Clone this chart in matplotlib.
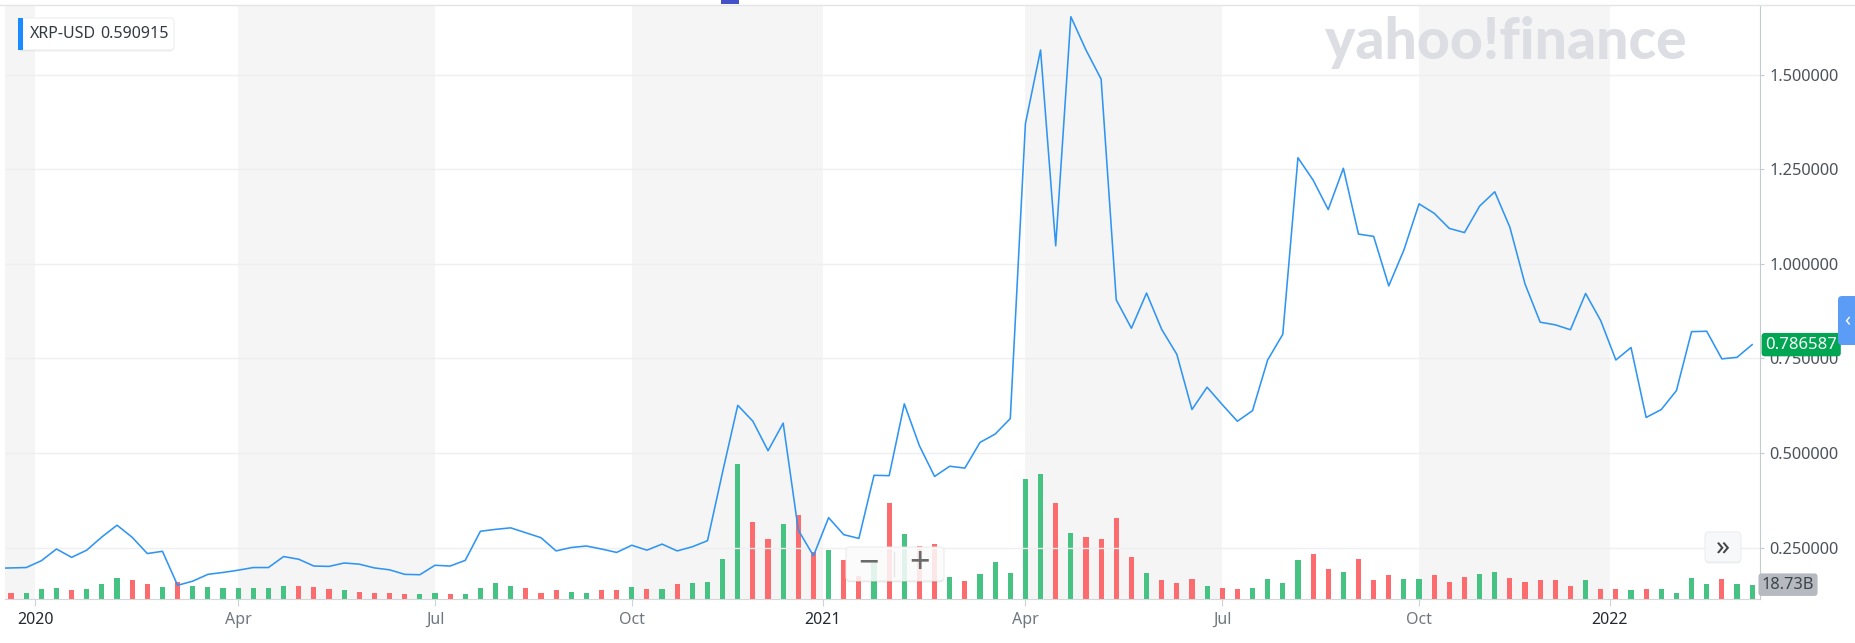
import numpy as np
import pandas as pd
import matplotlib
matplotlib.use("Agg")
import matplotlib.pyplot as plt
from matplotlib import patches, transforms
from matplotlib.lines import Line2D
import matplotlib.patheffects as pe

plt.rcParams['font.family'] = ['Noto Sans', 'DejaVu Sans']

# --- datos (semanal, XRP-USD) ---
dates = pd.date_range('2019-12-16', periods=117, freq='W-MON')

price = [
    0.195,
    0.196, 0.197, 0.215, 0.246, 0.224, 0.243, 0.278, 0.309, 0.277, 0.234,
    0.240, 0.150, 0.161, 0.179, 0.184, 0.190, 0.197, 0.197, 0.226, 0.219,
    0.201, 0.200, 0.209, 0.206, 0.196, 0.191, 0.179, 0.178, 0.203, 0.201,
    0.216, 0.293, 0.298, 0.302, 0.289, 0.276, 0.241, 0.250, 0.254, 0.246,
    0.237, 0.256, 0.243, 0.259, 0.241, 0.252, 0.268, 0.450, 0.626, 0.584,
    0.506, 0.579, 0.296, 0.228, 0.329, 0.284, 0.274, 0.441, 0.440, 0.630,
    0.519, 0.438, 0.465, 0.460, 0.528, 0.550, 0.591, 1.371, 1.566, 1.048,
    1.654, 1.566, 1.489, 0.905, 0.830, 0.923, 0.827, 0.761, 0.615, 0.674,
    0.628, 0.584, 0.612, 0.746, 0.814, 1.281, 1.222, 1.144, 1.253, 1.079,
    1.073, 0.942, 1.037, 1.159, 1.134, 1.094, 1.083, 1.153, 1.191, 1.097,
    0.947, 0.846, 0.839, 0.826, 0.922, 0.850, 0.746, 0.779, 0.594, 0.615,
    0.665, 0.821, 0.822, 0.749, 0.753, 0.786587,
]

# volumen en miles de millones (B); la primera semana queda fuera del grafico
volume = [
    np.nan,
    7.8, 7.8, 13.1, 14.8, 11.3, 13.1, 19.2, 27.9, 24.4, 19.2,
    16.1, 22.7, 17.4, 16.1, 14.4, 14.4, 14.4, 14.4, 17.4, 17.4,
    16.1, 13.1, 11.3, 9.6, 7.8, 7.8, 6.1, 6.1, 7.8, 6.1,
    6.1, 14.4, 20.9, 17.4, 14.4, 7.8, 11.3, 9.6, 7.8, 11.3,
    11.3, 15.7, 13.1, 13.1, 19.2, 20.9, 22.7, 52.3, 176.4, 101.1,
    78.4, 98.0, 109.3, 61.4, 63.6, 50.5, 30.5, 47.9, 125.5, 84.9,
    68.8, 72.3, 29.2, 23.1, 32.7, 48.8, 34.4, 156.8, 163.4, 125.5,
    86.2, 81.5, 78.4, 105.9, 55.3, 34.4, 24.4, 20.9, 26.1, 17.4,
    14.4, 13.1, 14.4, 26.1, 20.9, 50.5, 58.8, 39.2, 35.7, 52.3,
    24.4, 30.9, 26.1, 26.1, 30.9, 22.7, 29.2, 32.7, 35.7, 27.4,
    22.7, 24.4, 24.4, 17.4, 24.4, 13.1, 13.1, 11.3, 13.1, 13.1,
    7.8, 27.4, 19.2, 26.1, 19.2, 18.73,
]

# u = sube, d = baja (color de la barra de volumen)
direction = ("-"
             "duuuduuudd" "uduuuuuuud" "ddudddduud" "uuuuddduud"
             "dududuuuud" "dudduddudu" "dduduuuuud" "uddddudddu"
             "dduuuuddud" "dduuddduud" "dddduddudu" "uuuduu")

price_ticks = [0.25, 0.5, 0.75, 1.0, 1.25, 1.5]
legend_value = "0.590915"
last_volume_label = "18.73B"

# --- geometria en pixeles ---
W, H = 1855, 643
L, R, T, B = 5, 1760, 5, 599


def fx(x):
    return x / W


def fy(y):
    return 1 - y / H


fig = plt.figure(figsize=(W / 100, H / 100), dpi=100)
ax_v = fig.add_axes([fx(L), fy(B), (R - L) / W, (B - T) / H])
ax = ax_v.twinx()
ax.patch.set_visible(False)

x = np.arange(len(dates))
ax_v.set_xlim(0.6, 116.52)
ax_v.set_ylim(0, 776)
ax.set_ylim(0.1138, 1.685)

# ticks: primer dato de cada trimestre, el de año un poco antes
tick_pos, tick_lab, tick_year = [], [], []
for q in pd.date_range('2020-01-01', '2022-01-01', freq='QS'):
    idx = int(np.argmax(dates >= q))
    if q.month == 1:
        tick_pos.append(idx - 0.4)
        tick_lab.append(str(q.year))
        tick_year.append(True)
    else:
        tick_pos.append(idx)
        tick_lab.append(q.strftime('%b'))
        tick_year.append(False)

# bandas grises (T4 y T2)
edges = [ax_v.get_xlim()[0]] + tick_pos + [ax_v.get_xlim()[1]]
for k in range(len(edges) - 1):
    if k % 2 == 0:
        ax_v.axvspan(edges[k], edges[k + 1], color='#f5f5f5', lw=0, zorder=0)

for p in price_ticks:
    ax.axhline(p, color='#eeeff1', lw=1, zorder=0.5)

bar_colors = ['#46c283' if d == 'u' else '#fc6b6d' for d in direction]
ax_v.bar(x, volume, width=0.34, color=bar_colors, zorder=2)
ax.plot(x, price, color='#2f95f2', lw=1.15, zorder=3)

# ejes
for s in ['top', 'left', 'right']:
    ax_v.spines[s].set_visible(False)
ax_v.spines['bottom'].set_color('#d3d6da')
for s in ['top', 'left', 'bottom']:
    ax.spines[s].set_visible(False)
ax.spines['right'].set_color('#c6cace')

ax_v.tick_params(axis='y', left=False, labelleft=False, right=False, labelright=False)
ax_v.set_xticks(tick_pos)
ax_v.set_xticklabels(tick_lab)
ax_v.tick_params(axis='x', length=5, color='#cfd3d7', pad=4)
for lab, yr in zip(ax_v.get_xticklabels(), tick_year):
    lab.set_fontsize(11.5)
    if yr:
        lab.set_fontweight('bold')
        lab.set_color('#232a31')
    else:
        lab.set_color('#6f7780')

ax.set_yticks(price_ticks)
ax.set_yticklabels([f'{p:.6f}' for p in price_ticks])
ax.tick_params(axis='y', length=3, color='#c6cace', pad=4,
               labelsize=11.8, labelcolor='#4b535b')

# etiqueta del precio actual
tr_p = transforms.blended_transform_factory(ax.transAxes, ax.transData)
ax.text(1.003, price[-1], f'{price[-1]:.6f}', transform=tr_p, ha='left', va='center',
        fontsize=12, color='white', zorder=10, clip_on=False,
        bbox=dict(boxstyle='round,pad=0.22,rounding_size=0.2', fc='#00a651', ec='none'))

# etiqueta del ultimo volumen
tr_v = transforms.blended_transform_factory(ax_v.transAxes, ax_v.transData)
ax.text(1.001, volume[-1], last_volume_label, transform=tr_v, ha='left', va='center',
        fontsize=11.8, color='#3d444c', zorder=10, clip_on=False,
        bbox=dict(boxstyle='round,pad=0.2,rounding_size=0.2', fc='#b6b9c0', ec='none'))

# linea superior y marcador azul del navegador
fig.add_artist(Line2D([0, 1], [fy(4.5)] * 2, transform=fig.transFigure,
                      color='#e1e4e8', lw=1))
px = transforms.IdentityTransform()
fig.add_artist(patches.Rectangle((721, H - 4), 18, 4, fc='#4451c9', ec='none', transform=px))

shadow = [pe.SimplePatchShadow(offset=(0, -1), shadow_rgbFace='#000000', alpha=0.08), pe.Normal()]

# leyenda
leg = patches.FancyBboxPatch((18, H - 50), 156, 32, boxstyle='round,pad=0,rounding_size=4',
                             fc='white', ec='#eceef0', lw=0.8, transform=px, path_effects=shadow)
fig.add_artist(leg)
fig.add_artist(patches.Rectangle((18, H - 50), 5, 32, fc='#1a8cff', ec='none', transform=px))
fig.text(fx(30), fy(34), 'XRP-USD', ha='left', va='center', fontsize=11.5, color='#333a41')
fig.text(fx(100), fy(34), legend_value, ha='left', va='center', fontsize=11.5, color='#333a41')

# marca de agua
fig.text(fx(1506), fy(59), 'yahoo!finance', ha='center', va='baseline', fontsize=41,
         fontweight='black', family=['Lato', 'DejaVu Sans'], color='#dcdee3')

# controles de zoom
zb = patches.FancyBboxPatch((846, H - 581), 98, 34, boxstyle='round,pad=0,rounding_size=4',
                            fc='white', ec='#e8e8e8', lw=0.8, alpha=0.85, transform=px,
                            path_effects=shadow)
fig.add_artist(zb)
fig.add_artist(Line2D([894, 894], [H - 576, H - 552], transform=px, color='#e6e6e6', lw=1))
fig.text(fx(869), fy(564), '\u2212', ha='center', va='center', fontsize=26,
         fontweight='bold', color='#6a6a6a')
fig.text(fx(920), fy(564), '+', ha='center', va='center', fontsize=26,
         fontweight='bold', color='#6a6a6a')

# boton >>
bb = patches.FancyBboxPatch((1705, H - 562), 36, 30, boxstyle='round,pad=0,rounding_size=4',
                            fc='#f7f8f9', ec='#eceef0', lw=0.8, transform=px, path_effects=shadow)
fig.add_artist(bb)
fig.text(fx(1723), fy(549), '\u00bb', ha='center', va='center', fontsize=20, color='#444444')

# pestaña azul
tab = patches.FancyBboxPatch((1838, H - 345), 30, 49, boxstyle='round,pad=0,rounding_size=4',
                             fc='#5b9cf7', ec='none', transform=px)
fig.add_artist(tab)
fig.text(fx(1847), fy(321), '\u2039', ha='center', va='center', fontsize=14, color='white')

fig.savefig('out.png', dpi=100)
